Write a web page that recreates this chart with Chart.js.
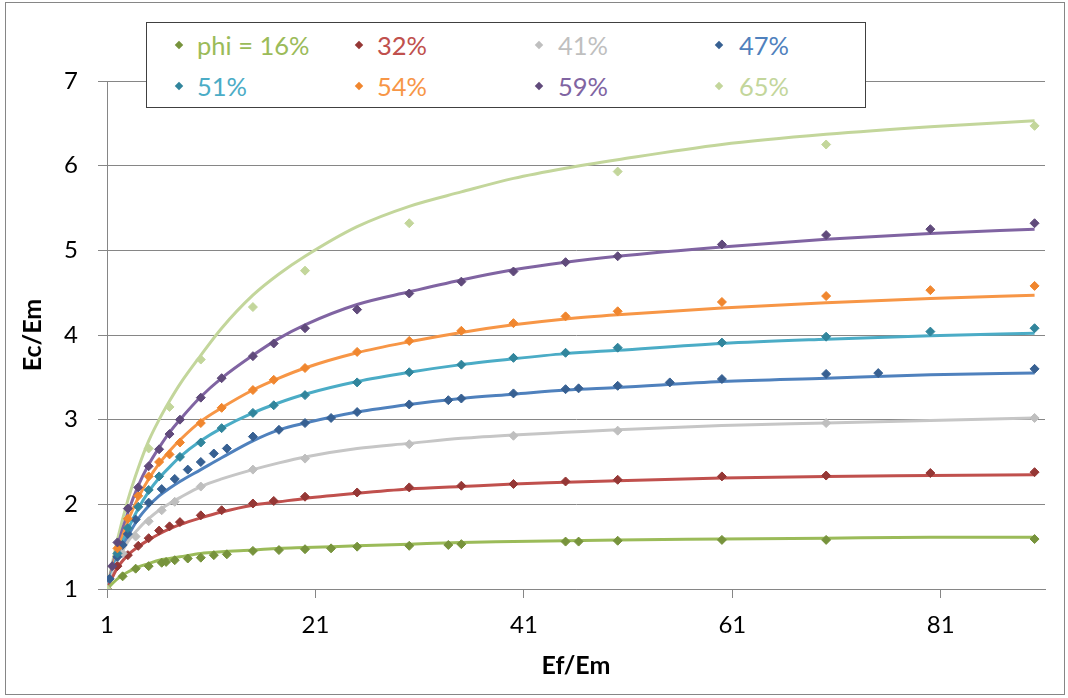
<!DOCTYPE html>
<html>
<head>
<meta charset="utf-8">
<script src="https://cdn.jsdelivr.net/npm/chart.js@4/dist/chart.umd.min.js"></script>
<style>
  html, body { margin: 0; padding: 0; background: #fff; }
  #wrap { position: relative; width: 1068px; height: 698px; overflow: hidden; font-family: Lato, "Open Sans", sans-serif; }
  #frame { position: absolute; left: 5px; top: 2px; width: 1060px; height: 693px; border: 1px solid #868686; box-sizing: border-box; pointer-events: none; }
  #legend { position: absolute; left: 146px; top: 22px; width: 720px; height: 86px; border: 1.5px solid #404040; background: #fff; box-sizing: border-box; }
  .li { position: absolute; font-size: 25.5px; line-height: 28px; white-space: nowrap; }
  .mk { position: absolute; width: 6px; height: 6px; transform: rotate(45deg); }
</style>
</head>
<body>
<div id="wrap">
  <canvas id="c" width="1068" height="698"></canvas>
  <div id="frame"></div>
  <div id="legend"></div>
</div>
<script>
// ---------- DATA ----------
const seriesNames = ["phi = 16%", "32%", "41%", "47%", "51%", "54%", "59%", "65%"];
const xTicks = [1, 21, 41, 61, 81];
const yTicks = [1, 2, 3, 4, 5, 6, 7];

// fitted curves
const curveX = [1, 2, 3, 4, 5, 6, 7, 8, 10, 12, 15, 17.5, 20, 25, 30, 35, 40, 45, 50, 60, 70, 80, 90];
const curve16 = [1.00,1.12,1.20,1.26,1.30,1.34,1.36,1.38,1.42,1.44,1.46,1.48,1.49,1.51,1.53,1.55,1.56,1.57,1.58,1.59,1.60,1.61,1.61];
const curve32 = [1.00,1.25,1.40,1.50,1.58,1.65,1.71,1.76,1.84,1.91,1.99,2.03,2.07,2.13,2.18,2.21,2.24,2.26,2.28,2.31,2.33,2.34,2.35];
const curve41 = [1.00,1.33,1.56,1.71,1.83,1.93,2.01,2.08,2.21,2.30,2.41,2.49,2.56,2.66,2.72,2.78,2.82,2.85,2.88,2.93,2.96,2.99,3.02];
const curve47 = [1.00,1.36,1.62,1.83,1.98,2.10,2.19,2.27,2.41,2.55,2.75,2.88,2.96,3.09,3.18,3.25,3.30,3.35,3.38,3.45,3.49,3.53,3.55];
const curve51 = [1.00,1.40,1.70,1.95,2.15,2.31,2.44,2.56,2.75,2.90,3.08,3.20,3.30,3.45,3.56,3.65,3.72,3.78,3.82,3.90,3.95,3.99,4.02];
const curve54 = [1.00,1.44,1.80,2.08,2.30,2.48,2.63,2.76,2.98,3.14,3.35,3.49,3.61,3.79,3.92,4.03,4.12,4.19,4.24,4.32,4.38,4.43,4.47];
const curve59 = [1.00,1.50,1.90,2.22,2.47,2.67,2.85,3.00,3.27,3.49,3.76,3.96,4.12,4.36,4.51,4.65,4.77,4.86,4.93,5.04,5.13,5.20,5.25];
const curve65 = [1.00,1.58,2.05,2.43,2.75,3.00,3.22,3.42,3.76,4.08,4.47,4.72,4.93,5.28,5.52,5.69,5.85,5.97,6.07,6.25,6.37,6.46,6.53];

// measured points
const pts16X = [1, 2.5, 3.75, 5, 6.25, 6.67, 7.5, 8.75, 10, 11.25, 12.5, 15, 17.5, 20, 22.5, 25, 30, 33.75, 35, 45, 46.25, 50, 60, 70, 90];
const pts16Y = [1.00, 1.15, 1.24, 1.27, 1.31, 1.32, 1.34, 1.36, 1.37, 1.40, 1.41, 1.45, 1.46, 1.47, 1.48, 1.50, 1.51, 1.52, 1.53, 1.56, 1.56, 1.57, 1.58, 1.58, 1.59];
const pts32X = [1, 2, 3, 4, 5, 6, 7, 8, 10, 12, 15, 17, 20, 25, 30, 35, 40, 45, 50, 60, 70, 80, 90];
const pts32Y = [1.00, 1.27, 1.40, 1.51, 1.60, 1.69, 1.74, 1.79, 1.87, 1.93, 2.01, 2.04, 2.09, 2.14, 2.20, 2.22, 2.24, 2.27, 2.29, 2.33, 2.34, 2.37, 2.38];
const pts41X = [1, 2.5, 3.75, 5, 6.25, 7.5, 10, 15, 20, 30, 40, 50, 70, 90];
const pts41Y = [1.00, 1.42, 1.62, 1.80, 1.93, 2.03, 2.21, 2.41, 2.54, 2.71, 2.81, 2.87, 2.96, 3.02];
const pts47X = [1.25, 2, 2.5, 3, 3.75, 5, 6.25, 7.5, 8.75, 10, 11.25, 12.5, 15, 17.5, 20, 22.5, 25, 30, 33.75, 35, 40, 45, 46.25, 50, 55, 60, 70, 75, 90];
const pts47Y = [1.12, 1.38, 1.52, 1.65, 1.82, 2.02, 2.18, 2.30, 2.41, 2.50, 2.60, 2.66, 2.80, 2.88, 2.96, 3.02, 3.09, 3.18, 3.23, 3.25, 3.31, 3.36, 3.37, 3.40, 3.44, 3.48, 3.54, 3.55, 3.60];
const pts51X = [1, 2, 3, 4, 5, 6, 8, 10, 12, 15, 17, 20, 25, 30, 35, 40, 45, 50, 60, 70, 80, 90];
const pts51Y = [1.00, 1.42, 1.72, 1.97, 2.17, 2.33, 2.56, 2.73, 2.90, 3.08, 3.17, 3.29, 3.44, 3.56, 3.65, 3.73, 3.79, 3.85, 3.91, 3.98, 4.04, 4.08];
const pts54X = [1, 2, 3, 4, 5, 6, 7, 8, 10, 12, 15, 17, 20, 25, 30, 35, 40, 45, 50, 60, 70, 80, 90];
const pts54Y = [1.00, 1.48, 1.83, 2.10, 2.33, 2.50, 2.59, 2.73, 2.96, 3.14, 3.35, 3.47, 3.61, 3.80, 3.93, 4.05, 4.14, 4.22, 4.28, 4.39, 4.46, 4.53, 4.58];
const pts59X = [1, 1.5, 2, 3, 4, 5, 6, 7, 8, 10, 12, 15, 17, 20, 25, 30, 35, 40, 45, 50, 60, 70, 80, 90];
const pts59Y = [1.00, 1.27, 1.55, 1.95, 2.20, 2.45, 2.65, 2.83, 3.00, 3.26, 3.49, 3.75, 3.90, 4.08, 4.30, 4.49, 4.63, 4.75, 4.86, 4.93, 5.07, 5.18, 5.25, 5.32];
const pts65X = [1, 5, 7, 10, 15, 20, 30, 50, 70, 90];
const pts65Y = [1.00, 2.66, 3.15, 3.71, 4.33, 4.76, 5.32, 5.93, 6.25, 6.47];

// ---------- STYLE ----------
const lineColors = ["#9BBB59", "#C0504D", "#C6C6C6", "#4F81BD", "#4BACC6", "#F79646", "#8064A2", "#C3D69B"];
const markColors = ["#77933C", "#953735", "#BFBFBF", "#376092", "#31859C", "#F0862E", "#604A7B", "#C3D69B"];
const textColors = ["#9BBB59", "#C0504D", "#BFBFBF", "#4F81BD", "#4BACC6", "#F79646", "#8064A2", "#C3D69B"];

const curves = [curve16, curve32, curve41, curve47, curve51, curve54, curve59, curve65];
const ptsX = [pts16X, pts32X, pts41X, pts47X, pts51X, pts54X, pts59X, pts65X];
const ptsY = [pts16Y, pts32Y, pts41Y, pts47Y, pts51Y, pts54Y, pts59Y, pts65Y];

const zip = (xs, ys) => xs.map((x, i) => ({ x: x, y: ys[i] }));

const datasets = [];
for (let i = 0; i < seriesNames.length; i++) {
  datasets.push({
    label: seriesNames[i] + " fit",
    data: zip(curveX, curves[i]),
    showLine: true,
    borderColor: lineColors[i],
    borderWidth: 3,
    pointRadius: 0,
    cubicInterpolationMode: "monotone",
    fill: false,
    order: 10 + i
  });
}
for (let i = 0; i < seriesNames.length; i++) {
  datasets.push({
    label: seriesNames[i],
    data: zip(ptsX[i], ptsY[i]),
    showLine: false,
    pointStyle: "rectRot",
    pointRadius: 4.5,
    backgroundColor: markColors[i],
    borderColor: markColors[i],
    borderWidth: 1,
    order: 8 - i
  });
}

const FONT = "Lato, 'Open Sans', sans-serif";

new Chart(document.getElementById("c"), {
  type: "scatter",
  data: { datasets: datasets },
  options: {
    responsive: false,
    animation: false,
    events: [],
    layout: { padding: { left: 0, right: 23, top: 81, bottom: 0 } },
    plugins: { legend: { display: false }, tooltip: { enabled: false } },
    scales: {
      x: {
        type: "linear",
        min: 1, max: 91,
        afterBuildTicks: (s) => { s.ticks = xTicks.map(v => ({ value: v })); },
        afterFit: (s) => { s.height = 109; },
        border: { color: "#868686", width: 1 },
        grid: { drawOnChartArea: false, drawTicks: true, tickLength: 9, color: "#868686" },
        ticks: { color: "#000", font: { family: FONT, size: 24 }, padding: 13, maxRotation: 0 },
        title: { display: true, text: "Ef/Em", color: "#000", font: { family: FONT, size: 25, weight: "bold" }, padding: { top: 0, bottom: 17 } }
      },
      y: {
        type: "linear",
        min: 1, max: 7,
        afterBuildTicks: (s) => { s.ticks = yTicks.map(v => ({ value: v })); },
        afterFit: (s) => { s.width = 107; },
        border: { color: "#868686", width: 1 },
        grid: { drawOnChartArea: true, drawTicks: true, tickLength: 9, color: "#868686", lineWidth: 1 },
        ticks: { color: "#000", font: { family: FONT, size: 24 }, padding: 20 },
        title: { display: true, text: "Ec/Em", color: "#000", font: { family: FONT, size: 25, weight: "bold" }, padding: { top: 18, bottom: 0 } }
      }
    }
  }
});

// ---------- LEGEND (HTML, real text) ----------
const legend = document.getElementById("legend");
const colText = [50, 230, 411, 592];
const colMark = [32, 212, 392, 572];
const rowY = [22, 63];
for (let i = 0; i < seriesNames.length; i++) {
  const r = Math.floor(i / 4), c = i % 4;
  const mk = document.createElement("div");
  mk.className = "mk";
  mk.style.left = (colMark[c] - 3) + "px";
  mk.style.top = (rowY[r] - 3) + "px";
  mk.style.background = markColors[i];
  legend.appendChild(mk);
  const t = document.createElement("div");
  t.className = "li";
  t.style.left = colText[c] + "px";
  t.style.top = (rowY[r] - 14) + "px";
  t.style.color = textColors[i];
  t.textContent = seriesNames[i];
  legend.appendChild(t);
}
</script>
</body>
</html>
